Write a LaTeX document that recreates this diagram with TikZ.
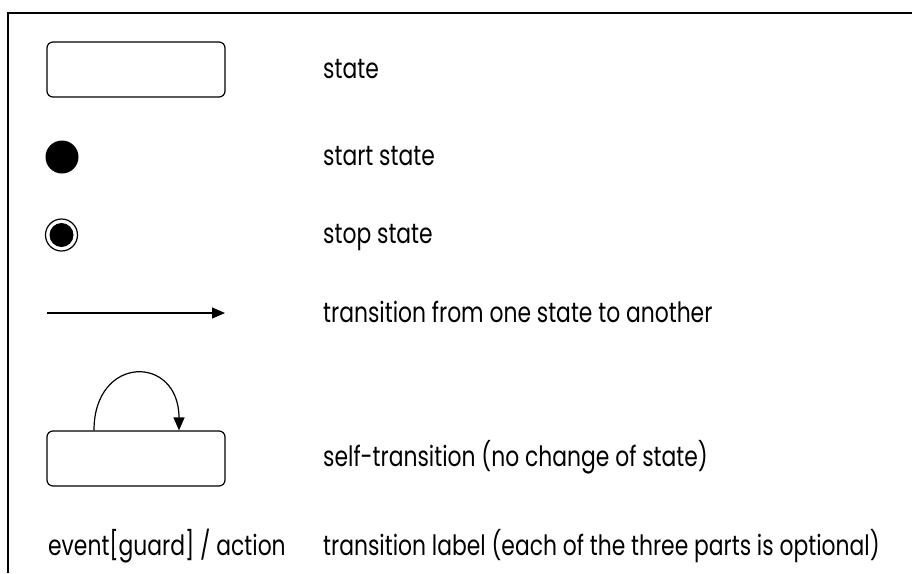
\documentclass[tikz,border=0pt]{standalone}
\usepackage{fontspec}
\setmainfont[FakeStretch=0.78]{Poppins}
\usetikzlibrary{arrows.meta}
\usetikzlibrary{positioning}

\tikzset{
  statebox/.style={draw, line width=1.2pt, rounded corners=6pt, minimum width=178pt, minimum height=55pt},
  legtext/.style={anchor=base west, inner sep=0pt, font=\fontsize{28}{32}\selectfont},
  tip/.style={-{Triangle[length=13pt,width=11pt]}}
}

\begin{document}
\begin{tikzpicture}[x=1pt,y=-1pt]
    \useasboundingbox (0,0) rectangle (912,573);
    % frame, only top and left
    \draw[line width=1.5pt] (8,573) -- (8,13) -- (912,13);

    \node[statebox] (state) at (136,69.5) {};
    \node[legtext] (statetxt) at (323,78) {state};

    \node[circle, fill, minimum size=33pt, inner sep=0pt] (startst) at (62,157) {};
    \node[legtext] (starttxt) at (323,165) {start state};

    \node[circle, draw, line width=1.2pt, minimum size=32pt, inner sep=0pt] (stopst) at (61.5,235) {};
    \node[circle, fill, minimum size=24pt, inner sep=0pt] (stopin) at (stopst) {};
    \node[legtext] (stoptxt) at (323,243) {stop state};

    \coordinate (tfrom) at (47,313);
    \coordinate (tto) at (225,313);
    \draw[tip, line width=1.2pt] (tfrom) -- (tto);
    \node[legtext] (transtxt) at (323,322) {transition from one state to another};

    \node[statebox] (self) at (136,458.5) {};
    \draw[tip, line width=1.2pt] ([xshift=-42pt]self.north) .. controls +(0,-76) and +(0,-76) .. ([xshift=43pt]self.north);
    \node[legtext] (selftxt) at (323,466) {self-transition (no change of state)};

    \node[legtext] (evttxt) at (48,555) {event[guard] / action};
    \node[legtext] (labtxt) at (323,555) {transition label (each of the three parts is optional)};
\end{tikzpicture}
\end{document}
